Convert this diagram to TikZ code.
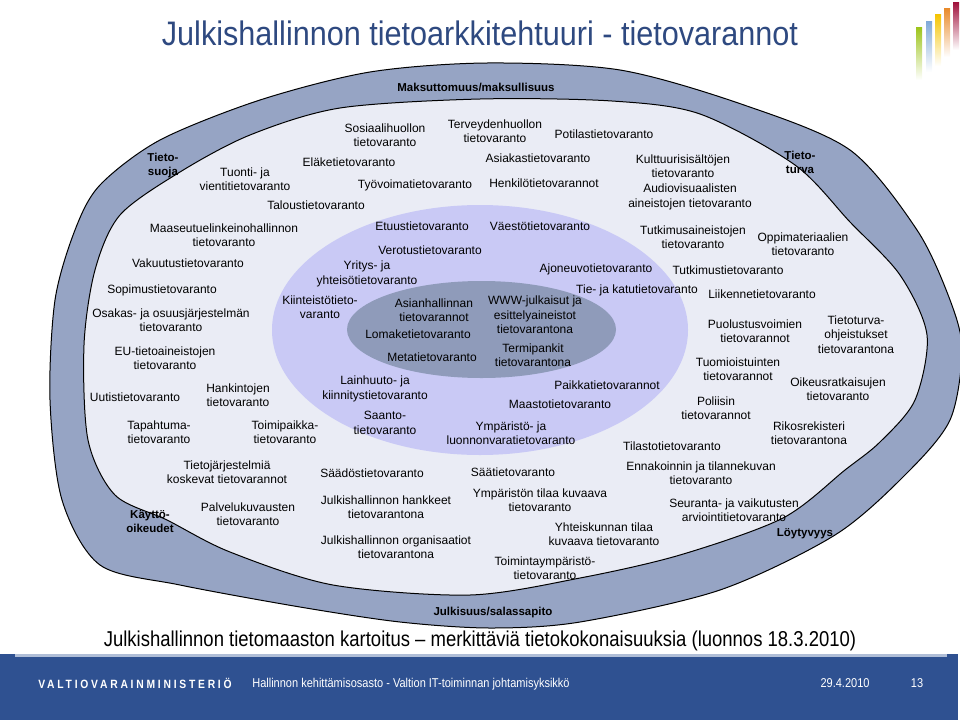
\documentclass[tikz,border=0pt]{standalone}
\usepackage{fontspec}
\setmainfont{Liberation Sans}
\newfontfamily\narrowfont[FakeStretch=0.86]{Liberation Sans}
\newfontfamily\otsikkofont[FakeStretch=0.90]{Liberation Sans}
\definecolor{rengas}{RGB}{150,164,196}
\definecolor{vaalea}{RGB}{234,236,245}
\definecolor{laventeli}{RGB}{201,201,245}
\definecolor{ydin}{RGB}{143,155,186}
\definecolor{otsikko}{RGB}{46,73,128}
\definecolor{alapalkki}{RGB}{47,81,145}
\definecolor{raita}{RGB}{176,190,215}
\tikzset{
	varanto/.style={align=center, inner sep=0pt, font=\fontsize{12}{14.3}\selectfont},
	reuna/.style={align=center, inner sep=0pt, font=\fontsize{11.5}{14}\selectfont\bfseries},
	alateksti/.style={inner sep=0pt, text=white, font=\fontsize{12.8}{14}\selectfont\narrowfont}
}
\begin{document}
\begin{tikzpicture}[x=1pt, y=-1pt]

	\useasboundingbox(0, 0) rectangle (960, 723);

		\shade[top color={rgb,255:red,157;green,196;blue,26}, bottom color=white](916, 27) rectangle (922, 80);
		\shade[top color={rgb,255:red,127;green,169;blue,217}, bottom color=white](926, 21) rectangle (932, 72);
		\shade[top color={rgb,255:red,245;green,196;blue,0}, bottom color=white](935, 14) rectangle (941, 66);
		\shade[top color={rgb,255:red,233;green,138;blue,42}, bottom color=white](944, 8) rectangle (950, 57);
		\shade[top color={rgb,255:red,160;green,16;blue,58}, bottom color=white](953, 2) rectangle (959, 50);

		\node[inner sep=0pt, text=otsikko, font=\fontsize{34}{38}\selectfont\otsikkofont](otsikko) at(480, 33){Julkishallinnon tietoarkkitehtuuri - tietovarannot};

		\draw[fill=rengas, line width=1pt] plot[smooth cycle] coordinates{
			(487, 63) (620, 70) (744, 105) (850, 150) (917, 230) (950, 300) (962, 350) (950, 420)
			(905, 475) (835, 535) (720, 590) (580, 622) (490, 628) (400, 622) (300, 607) (180, 585)
			(100, 565) (62, 500) (50, 400) (55, 300) (75, 230) (100, 185) (160, 140) (260, 100) (370, 72)};
		\draw[fill=vaalea, line width=1pt] plot[smooth cycle] coordinates{
			(480, 99) (612, 101) (700, 114) (795, 165) (850, 222) (900, 275) (927, 335) (915, 400)
			(880, 442) (845, 470) (783, 518) (680, 555) (580, 578) (470, 595) (333, 585) (230, 552)
			(167, 520) (115, 495) (88, 440) (84, 345) (95, 270) (120, 215) (180, 172) (250, 135) (340, 108)};
		\fill[laventeli](480, 330) ellipse [x radius=208, y radius=125];
		\fill[ydin](481.5, 329.5) ellipse [x radius=134.5, y radius=48.5];

		\node[reuna](maksu) at(476, 87){Maksuttomuus/maksullisuus};
		\node[reuna](tietosuoja) at(163, 165.5){Tieto-\\suoja};
		\node[reuna](tietoturva) at(800, 162.5){Tieto-\\turva};
		\node[reuna](kaytto) at(150, 521.5){Käyttö-\\oikeudet};
		\node[reuna](loytyvyys) at(805, 534){Löytyvyys};
		\node[reuna](julkisuus) at(493, 613){Julkisuus/salassapito};

		\node[varanto](sosiaali) at(385, 135.5){Sosiaalihuollon\\tietovaranto};
		\node[varanto](terveys) at(495, 131){Terveydenhuollon\\tietovaranto};
		\node[varanto](potilas) at(604, 134){Potilastietovaranto};
		\node[varanto](elake) at(349, 162){Eläketietovaranto};
		\node[varanto](asiakas) at(538, 158){Asiakastietovaranto};
		\node[varanto](kulttuuri) at(683, 166){Kulttuurisisältöjen\\tietovaranto};
		\node[varanto](tuonti) at(245, 179){Tuonti- ja\\vientitietovaranto};
		\node[varanto](tyovoima) at(415, 185){Työvoimatietovaranto};
		\node[varanto](henkilo) at(544, 183){Henkilötietovarannot};
		\node[varanto](audio) at(690, 197){Audiovisuaalisten\\aineistojen tietovaranto};
		\node[varanto](talous) at(316, 205){Taloustietovaranto};

		\node[varanto](maaseutu) at(224, 235.5){Maaseutuelinkeinohallinnon\\tietovaranto};
		\node[varanto](vakuutus) at(188, 263){Vakuutustietovaranto};
		\node[varanto](sopimus) at(162, 290){Sopimustietovaranto};
		\node[varanto](osakas) at(171, 320.5){Osakas- ja osuusjärjestelmän\\tietovaranto};
		\node[varanto](eu) at(165, 358){EU-tietoaineistojen\\tietovaranto};
		\node[varanto](uutis) at(135, 397){Uutistietovaranto};
		\node[varanto](hankinta) at(238, 395.5){Hankintojen\\tietovaranto};
		\node[varanto](tapahtuma) at(159, 432.5){Tapahtuma-\\tietovaranto};
		\node[varanto](toimipaikka) at(285, 432.5){Toimipaikka-\\tietovaranto};
		\node[varanto](tietojarj) at(227, 472.5){Tietojärjestelmiä\\koskevat tietovarannot};
		\node[varanto](palvelu) at(248, 514){Palvelukuvausten\\tietovaranto};

		\node[varanto](etuus) at(422, 226){Etuustietovaranto};
		\node[varanto](vaesto) at(540, 226){Väestötietovaranto};
		\node[varanto](verotus) at(430, 250){Verotustietovaranto};
		\node[varanto](yritys) at(367, 274){Yritys- ja\\yhteisötietovaranto};
		\node[varanto](ajoneuvo) at(596, 269){Ajoneuvotietovaranto};
		\node[varanto](tiejakatu) at(637, 290){Tie- ja katutietovaranto};
		\node[varanto](kiinteisto) at(320, 307.5){Kiinteistötieto-\\varanto};
		\node[varanto](lainhuuto) at(375, 389){Lainhuuto- ja\\kiinnitystietovaranto};
		\node[varanto](saanto) at(385, 423){Saanto-\\tietovaranto};
		\node[varanto](paikka) at(607, 385){Paikkatietovarannot};
		\node[varanto](maasto) at(560, 404){Maastotietovaranto};
		\node[varanto](ymparisto) at(511, 433){Ympäristö- ja\\luonnonvaratietovaranto};

		\node[varanto](asianhallinta) at(434, 310){Asianhallinnan\\tietovarannot};
		\node[varanto](lomake) at(418, 334){Lomaketietovaranto};
		\node[varanto](meta) at(432, 357){Metatietovaranto};
		\node[varanto](www) at(535, 315){WWW-julkaisut ja\\esittelyaineistot\\tietovarantona};
		\node[varanto](termi) at(533, 355){Termipankit\\tietovarantona};

		\node[varanto](tutkimusaineisto) at(693, 237){Tutkimusaineistojen\\tietovaranto};
		\node[varanto](oppimateriaali) at(803, 244.5){Oppimateriaalien\\tietovaranto};
		\node[varanto](tutkimus) at(728, 270){Tutkimustietovaranto};
		\node[varanto](liikenne) at(762, 294){Liikennetietovaranto};
		\node[varanto](puolustus) at(755, 331){Puolustusvoimien\\tietovarannot};
		\node[varanto](tietoturvaohje) at(856, 334.5){Tietoturva-\\ohjeistukset\\tietovarantona};
		\node[varanto](tuomio) at(738, 369){Tuomioistuinten\\tietovarannot};
		\node[varanto](oikeus) at(838, 389){Oikeusratkaisujen\\tietovaranto};
		\node[varanto](poliisi) at(716, 408.5){Poliisin\\tietovarannot};
		\node[varanto](rikos) at(809, 433){Rikosrekisteri\\tietovarantona};
		\node[varanto](tilasto) at(672, 446){Tilastotietovaranto};
		\node[varanto](ennakointi) at(701, 473.5){Ennakoinnin ja tilannekuvan\\tietovaranto};
		\node[varanto](seuranta) at(734, 510){Seuranta- ja vaikutusten\\arviointitietovaranto};

		\node[varanto](saados) at(372, 473){Säädöstietovaranto};
		\node[varanto](hankkeet) at(386, 507.5){Julkishallinnon hankkeet\\tietovarantona};
		\node[varanto](organisaatiot) at(396, 547.5){Julkishallinnon organisaatiot\\tietovarantona};
		\node[varanto](saa) at(513, 472){Säätietovaranto};
		\node[varanto](ymparistontila) at(540, 500){Ympäristön tilaa kuvaava\\tietovaranto};
		\node[varanto](yhteiskunta) at(604, 534){Yhteiskunnan tilaa\\kuvaava tietovaranto};
		\node[varanto](toimintaymp) at(545, 568.5){Toimintaympäristö-\\tietovaranto};

		\node[inner sep=0pt, font=\fontsize{21.5}{24}\selectfont\narrowfont](kuvateksti) at(480, 641){Julkishallinnon tietomaaston kartoitus – merkittäviä tietokokonaisuuksia (luonnos 18.3.2010)};

		\fill[alapalkki](0, 654) rectangle (958, 720);
		\fill[raita](15, 654) rectangle (947, 657);
		\node[alateksti, font=\fontsize{12}{14}\selectfont\bfseries\narrowfont\addfontfeatures{LetterSpace=23}](ministerio) at(135, 683){VALTIOVARAINMINISTERIÖ};
		\node[alateksti](osasto) at(411, 684){Hallinnon kehittämisosasto - Valtion IT-toiminnan johtamisyksikkö};
		\node[alateksti](pvm) at(845, 683){29.4.2010};
		\node[alateksti](sivu) at(917, 683){13};

	\end{tikzpicture}
\end{document}
